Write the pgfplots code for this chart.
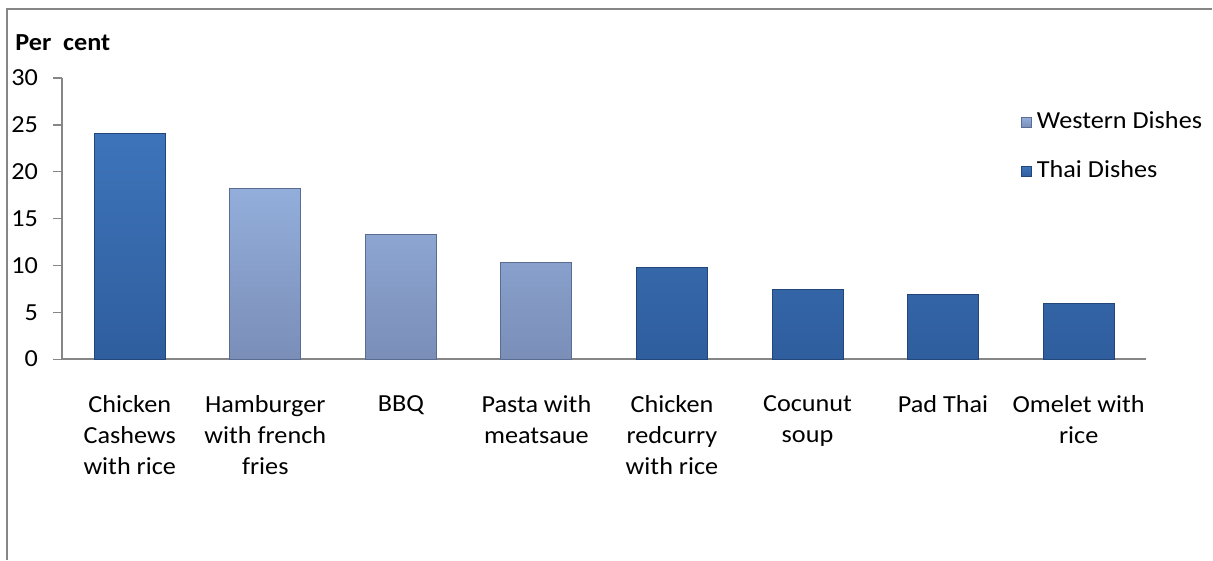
\documentclass[border=0pt]{standalone}
\usepackage{pgfplots}
\pgfplotsset{compat=1.18}
\usepackage{fontspec}
\setmainfont{Carlito}[FakeStretch=1.07]
\definecolor{thaiT}{HTML}{3D74BA}
\definecolor{thaiB}{HTML}{2F5E9E}
\definecolor{thaiE}{HTML}{23467A}
\definecolor{westT}{HTML}{93AEDB}
\definecolor{westB}{HTML}{7A8EB8}
\definecolor{westE}{HTML}{5A6C92}
\definecolor{axgray}{HTML}{868686}
\begin{document}
\begin{tikzpicture}
\fontsize{12.25}{15.5}\selectfont
\path[fill=white] (0pt,0pt) rectangle (606.5pt,280pt);
\draw[axgray, line width=0.6pt] (3.5pt,0pt) -- (3.5pt,275.5pt) -- (606.5pt,275.5pt);
\node[anchor=base west, font=\bfseries, inner sep=0pt] at (7.5pt,254.5pt) {Per\ \ cent};
\begin{axis}[
  at={(31pt,100.35pt)}, anchor=south west,
  scale only axis, width=542.5pt, height=140.6pt,
  xmin=-0.5, xmax=7.5, ymin=0, ymax=30,
  axis lines=left, axis line style={-, axgray, line width=0.8pt},
  ytick={0,5,...,30},
  xtick={0,...,7},
  xticklabels={Chicken\\Cashews\\with rice, Hamburger\\with french\\fries, BBQ, Pasta with\\meatsaue, Chicken\\redcurry\\with rice, Cocunut\\soup, Pad Thai, Omelet with\\rice},
  xticklabel style={align=center, yshift=-9.6pt},
  yticklabel style={xshift=-3.2pt},
  major x tick style={draw=none},
  major y tick style={axgray, line width=0.6pt},
  tick align=outside, major tick length=4.5pt,
  /pgf/number format/assume math mode=true,
  ticklabel style={font=\fontsize{12.25}{15.5}\selectfont},
  bar width=35.5pt,
  legend style={draw=none, fill=none, at={(0.8839,0.8866)}, anchor=north west,
    font=\fontsize{12.25}{15.5}\selectfont, row sep=12.5pt, column sep=2.5pt, inner sep=0pt,
    nodes={inner sep=0pt, text height=9pt, text depth=3pt}},
  legend cell align=left,
  legend image code/.code={\path[#1] (0pt,-2.5pt) rectangle (5pt,2.5pt);},
]
\addplot[ybar, bar shift=0pt, top color=westT, bottom color=westB, draw=westE, line width=0.5pt]
  coordinates {(1,18.25) (2,13.27) (3,10.35)};
\addlegendentry{Western Dishes}
\addplot[ybar, bar shift=0pt, top color=thaiT, bottom color=thaiB, draw=thaiE, line width=0.5pt]
  coordinates {(0,24.1) (4,9.82) (5,7.4) (6,6.94) (7,5.9)};
\addlegendentry{Thai Dishes}
\end{axis}
\end{tikzpicture}
\end{document}
